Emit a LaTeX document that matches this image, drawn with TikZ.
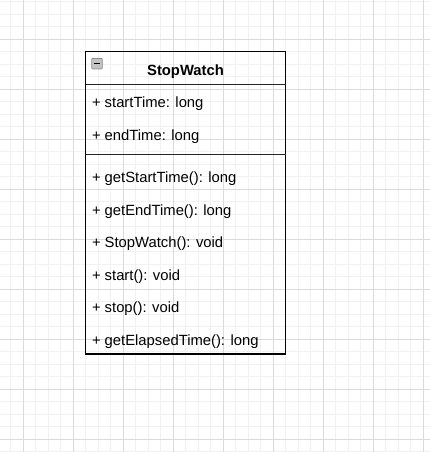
\documentclass[tikz,border=0pt]{standalone}
\usepackage{fontspec}
\setmainfont{Liberation Sans}
\definecolor{gridminor}{HTML}{F1F1F1}
\definecolor{gridmajor}{HTML}{DADADA}
\definecolor{iconfill}{HTML}{C4C4C4}
\definecolor{iconedge}{HTML}{8E8E8E}
\begin{document}
\begin{tikzpicture}[x=1pt,y=-1pt,
  every node/.style={inner sep=0pt, outer sep=0pt},
  minorline/.style={draw=gridminor, line width=0.9pt},
  majorline/.style={draw=gridmajor, line width=0.9pt},
  classbox/.style={draw=black, line width=1.3pt, minimum width=200pt, minimum height=302.3pt, anchor=north west},
  divider/.style={draw=black!85, line width=1.3pt},
  member/.style={anchor=base west, font=\fontsize{14.8}{17}\selectfont, text=black},
  title/.style={anchor=base, font=\bfseries\fontsize{14.8}{17}\selectfont, text=black},
  collapse/.style={draw=iconedge, fill=iconfill, line width=0.8pt, minimum width=10.5pt, minimum height=10.5pt, rounded corners=0.8pt}
]
\useasboundingbox (0,0) rectangle (430,452);
\fill[white] (0,0) rectangle (430,452);
% grid
\foreach \i in {0,...,35} { \draw[minorline] ({-1.7+12.5*\i},0) -- ({-1.7+12.5*\i},452); }
\foreach \i in {0,...,36} { \draw[minorline] (0,{1.8+12.5*\i}) -- (430,{1.8+12.5*\i}); }
\foreach \i in {0,...,8} { \draw[majorline] ({23.3+50*\i},0) -- ({23.3+50*\i},452); }
\foreach \i in {0,...,8} { \draw[majorline] (0,{39.3+50*\i}) -- (430,{39.3+50*\i}); }
% class box
\node[classbox] (cls) at (85.5,51.7) {};
\coordinate (h1) at (0,84.3);
\coordinate (h2) at (0,154.6);
\draw[divider] (cls.west |- h1) -- (cls.east |- h1);
\draw[divider] (cls.west |- h2) -- (cls.east |- h2);
% collapse icon
\node[collapse] (icon) at (97,63.7) {};
\draw[line width=1.3pt] ([xshift=2pt]icon.west) -- ([xshift=-2pt]icon.east);
% title
\node[title] (name) at (185.5,75.7) {StopWatch};
% attributes
\node[member] (a1) at (92,107.5) {+ startTime: long};
\node[member] (a2) at (92,140) {+ endTime: long};
% methods
\node[member] (m1) at (92,182.5) {+ getStartTime(): long};
\node[member] (m2) at (92,215) {+ getEndTime(): long};
\node[member] (m3) at (92,247.5) {+ StopWatch(): void};
\node[member] (m4) at (92,280) {+ start(): void};
\node[member] (m5) at (92,312.5) {+ stop(): void};
\node[member] (m6) at (92,345) {+ getElapsedTime(): long};
\end{tikzpicture}
\end{document}
